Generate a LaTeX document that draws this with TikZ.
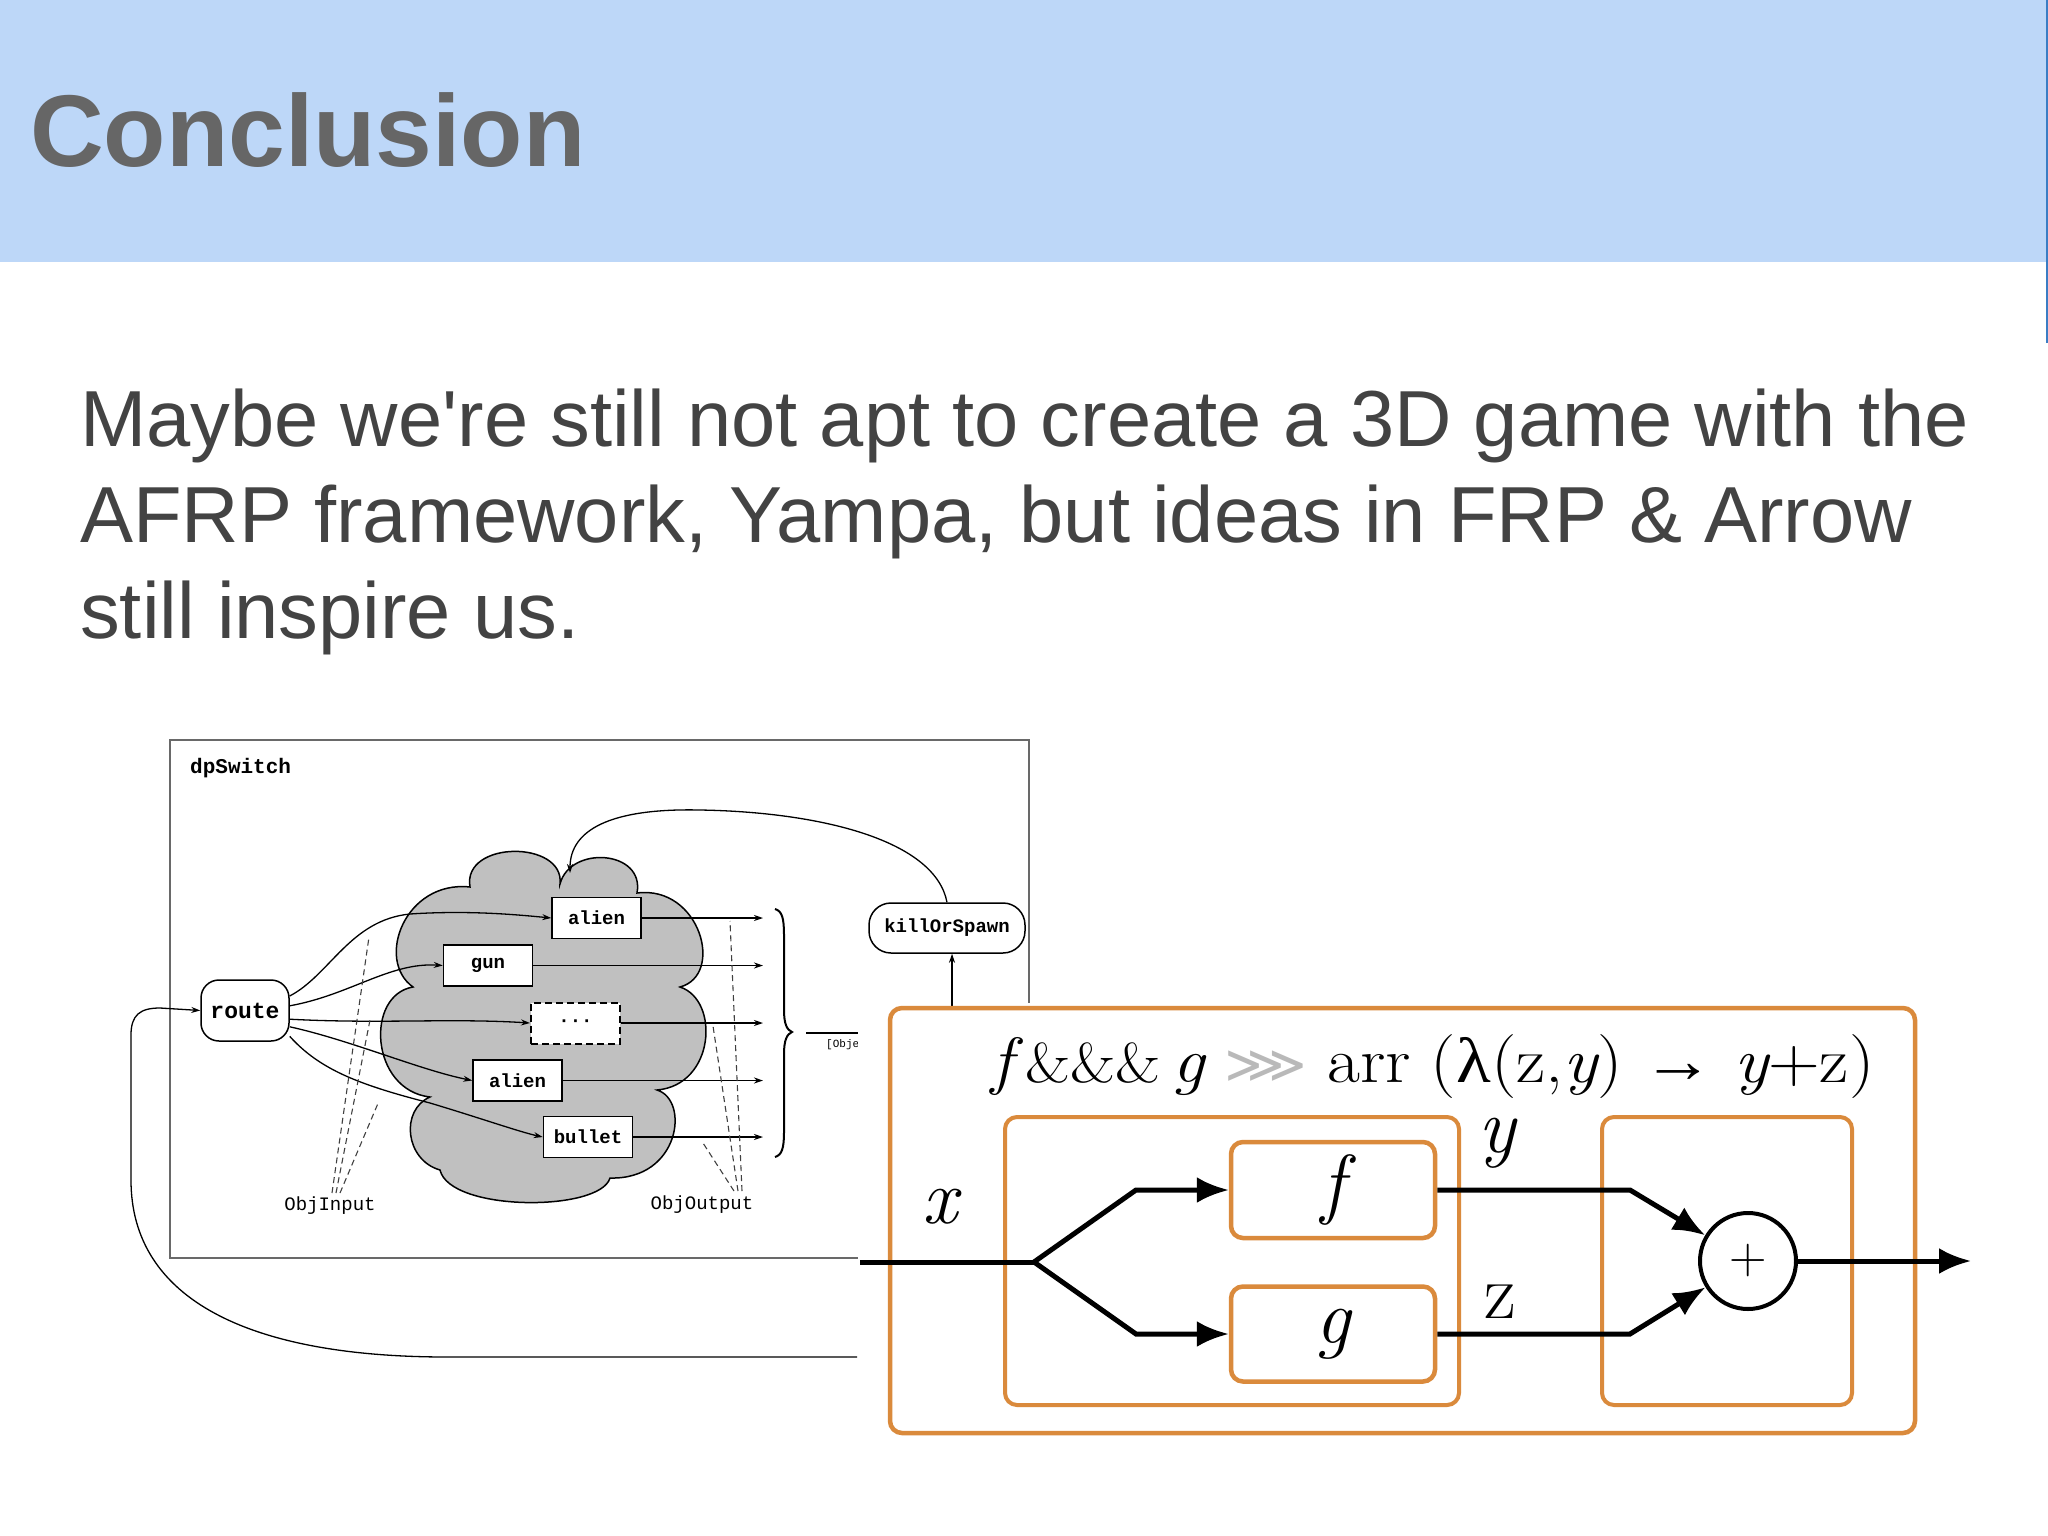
\documentclass[tikz,border=0pt]{standalone}
\usepackage{graphicx}
\usepackage{fontspec}
\usetikzlibrary{arrows.meta}
\newfontfamily\sansf{Liberation Sans}
\newfontfamily\monof{Liberation Mono}
\newfontfamily\seriff{Liberation Serif}
\newfontfamily\dejav{DejaVu Sans}
\definecolor{hdrblue}{RGB}{189,215,248}
\definecolor{edgeblue}{RGB}{58,125,196}
\definecolor{titlegray}{RGB}{102,102,102}
\definecolor{bodygray}{RGB}{67,67,67}
\definecolor{cloudgray}{RGB}{192,192,192}
\definecolor{framegray}{RGB}{105,105,105}
\definecolor{frporange}{RGB}{218,138,60}
\definecolor{chevgray}{RGB}{185,185,185}
\tikzset{
  bodytext/.style={anchor=base west, inner sep=0pt, text=bodygray, font=\sansf\fontsize{79.5}{96}\selectfont},
  objbox/.style={draw, line width=1.5pt, fill=white, inner sep=0pt, minimum width=89pt, minimum height=41pt, font=\monof\bfseries\fontsize{19}{22}\selectfont},
  pillbox/.style={draw, line width=1.5pt, fill=white, inner sep=0pt, font=\monof\bfseries\fontsize{19}{22}\selectfont},
  ledge/.style={line width=1.3pt, -{Stealth[length=9pt,width=6pt]}},
  dashline/.style={line width=1.1pt, dash pattern=on 6pt off 4pt, black!75},
  monolabel/.style={inner sep=0pt, anchor=base, font=\monof\fontsize{19}{22}\selectfont},
  obox/.style={draw=frporange, line width=4.5pt, rounded corners=12pt, inner sep=0pt},
  thickline/.style={line width=5pt, line join=miter},
  bigarrow/.style={thickline, -{Latex[length=32pt,width=26pt]}},
  mathlbl/.style={inner sep=0pt, anchor=base, font=\fontsize{78}{80}\selectfont}
}
\begin{document}
\begin{tikzpicture}[x=1pt,y=-1pt]
\useasboundingbox (0,0) rectangle (2048,1536);
% header
\fill[hdrblue] (0,0) rectangle (2048,262);
\draw[edgeblue, line width=2pt] (2047,0) -- (2047,343);
\node[anchor=base west, inner sep=0pt, text=titlegray, font=\sansf\bfseries\fontsize{102}{110}\selectfont] (title) at (30,166) {Conclusion};
% body text
\node[bodytext] (body1) at (80,446) {Maybe we're still not apt to create a 3D game with the};
\node[bodytext] (body2) at (80,542) {AFRP framework, Yampa, but ideas in FRP \& Arrow};
\node[bodytext] (body3) at (80,638) {still inspire us.};
% ---------------- left diagram ----------------
\draw[framegray, line width=2pt] (170,740) rectangle (1029,1258);
\node[anchor=base west, inner sep=0pt, font=\monof\bfseries\fontsize{21}{24}\selectfont] (dps) at (190,773) {dpSwitch};
% cloud
\draw[line width=1.5pt, fill=cloudgray]
  (470,887) .. controls (462,840) and (565,840) .. (560,884)
  .. controls (570,845) and (645,850) .. (637,893)
  .. controls (700,885) and (725,975) .. (680,987)
  .. controls (720,1000) and (715,1085) .. (657,1090)
  .. controls (690,1100) and (680,1180) .. (610,1178)
  .. controls (600,1212) and (450,1212) .. (440,1170)
  .. controls (405,1160) and (400,1110) .. (430,1097)
  .. controls (370,1090) and (365,995) .. (413,987)
  .. controls (375,960) and (405,880) .. (470,887) -- cycle;
% nodes
\node[pillbox, rounded corners=18pt, minimum width=88pt, minimum height=61pt, font=\monof\bfseries\fontsize{23}{26}\selectfont] (route) at (245,1010.5) {route};
\node[objbox] (alien1) at (596.5,918) {alien};
\node[objbox] (gun) at (488,965.5) {gun};
\node[objbox, dashed, dash pattern=on 7pt off 4pt, line width=2pt] (dots) at (575.5,1023) {···};
\node[objbox] (alien2) at (517.5,1080.5) {alien};
\node[objbox] (bullet) at (588,1137) {bullet};
\node[pillbox, rounded corners=22pt, minimum width=156pt, minimum height=50pt] (kill) at (947,928) {killOrSpawn};
% route edges
\draw[ledge] (route.18) .. controls (330,975) and (350,920) .. (410,914) .. controls (470,910) and (520,915) .. (alien1.west);
\draw[ledge] (route.6) .. controls (350,995) and (390,962) .. (gun.west);
\draw[ledge] (route.-11) .. controls (380,1024) and (450,1018) .. (dots.west);
\draw[ledge] (route.-20) .. controls (350,1040) and (420,1070) .. (alien2.west);
\draw[ledge] (route.-30) .. controls (320,1070) and (360,1085) .. (430,1103) .. controls (480,1118) and (520,1132) .. (bullet.west);
% outputs
\coordinate (o1) at (763,918);
\coordinate (o2) at (763,965.5);
\coordinate (o3) at (763,1023);
\coordinate (o4) at (763,1080.5);
\coordinate (o5) at (763,1137);
\draw[ledge] (alien1.east) -- (o1);
\draw[ledge] (gun.east) -- (o2);
\draw[ledge] (dots.east) -- (o3);
\draw[ledge] (alien2.east) -- (o4);
\draw[ledge] (bullet.east) -- (o5);
% dashed guide lines
\node[monolabel] (objin) at (330,1210) {ObjInput};
\node[monolabel] (objout) at (702,1209) {ObjOutput};
\draw[dashline] (332,1193) -- (369,937);
\draw[dashline] (336,1193) -- (370,1020);
\draw[dashline] (340,1193) -- (379,1101);
\draw[dashline] (742,1191) -- (730,921);
\draw[dashline] (738,1191) -- (713,1026);
\draw[dashline] (734,1191) -- (703,1143);
% brace
\draw[line width=2pt] (775,909) .. controls (782,911) and (784,918) .. (784,935) -- (784,1010)
  .. controls (784,1024) and (787,1030) .. (792,1032)
  .. controls (787,1034) and (784,1040) .. (784,1054) -- (784,1132)
  .. controls (784,1148) and (782,1155) .. (775,1157);
\coordinate (bl1) at (806,1033);
\coordinate (bl2) at (860,1033);
\draw[line width=1.3pt] (bl1) -- (bl2);
\node[anchor=west, inner sep=0pt, font=\monof\fontsize{11}{12}\selectfont] (objlist) at (826,1045) {[Objects]};
% feedback from killOrSpawn into cloud
\coordinate (cloudtop) at (570,873);
\draw[ledge] (kill.north) .. controls (935,840) and (820,812) .. (700,810) .. controls (610,808) and (570,830) .. (cloudtop);
% loop back into route
\coordinate (fbstart) at (857,1357);
\draw[ledge] (fbstart) -- (447,1357) .. controls (250,1357) and (131,1300) .. (131,1180) -- (131,1035) .. controls (131,1015) and (140,1008) .. (160,1008) -- (route.west);
% ---------------- right diagram ----------------
\fill[white] (858,1003) rectangle (1995,1445);
\coordinate (kin) at (952,1006);
\draw[ledge] (kin) -- (kill.south -| kin);
\node[obox, minimum width=1025pt, minimum height=425pt] (outer) at (1402.5,1220.5) {};
\node[obox, line width=4pt, minimum width=454pt, minimum height=288pt] (inner) at (1232,1261) {};
\node[obox, line width=4pt, minimum width=250pt, minimum height=288pt] (rbox) at (1727,1261) {};
\node[obox, minimum width=204pt, minimum height=96pt, font=\fontsize{78}{80}\selectfont\itshape] (fbox) at (1333,1190) {f};
\node[obox, minimum width=204pt, minimum height=95pt, font=\fontsize{78}{80}\selectfont\itshape] (gbox) at (1333,1334) {g};
\node[draw, circle, line width=4pt, minimum size=96pt, inner sep=0pt, font=\fontsize{52}{54}\selectfont] (plus) at (1748,1261) {+};
\coordinate (xin) at (860,1262);
\coordinate (fork) at (1034,1262);
\coordinate (fup) at (1136,1190);
\coordinate (gdn) at (1136,1334);
\coordinate (ycor) at (1630,1190);
\coordinate (zcor) at (1630,1334);
\coordinate (xout) at (1971,1261);
\draw[thickline] (xin) -- (fork);
\draw[bigarrow] (fork) -- (fup) -- (fbox.west);
\draw[bigarrow] (fork) -- (gdn) -- (gbox.west);
\draw[bigarrow] (fbox.east) -- (ycor) -- (plus);
\draw[bigarrow] (gbox.east) -- (zcor) -- (plus);
\draw[bigarrow] (plus.east) -- (xout);
% labels
\node[mathlbl, font=\fontsize{78}{80}\selectfont\itshape] (xl) at (940,1223) {x};
\node[mathlbl, font=\fontsize{78}{80}\selectfont\itshape] (yl) at (1497,1152) {y};
\node[mathlbl] (zl) at (1500,1318) {z};
% formula
\node[anchor=base, inner sep=0pt, font=\fontsize{64}{68}\selectfont] (formula) at (1433,1082)
  {\scalebox{1.12}[1]{\itshape f\upshape\,{\fontsize{56}{58}\selectfont\&\&\&}\,\itshape g\upshape\;{\dejav\fontsize{52}{54}\selectfont\color{chevgray}⋙}\;arr\;({\seriff λ}(z,\itshape y\upshape)\;{\seriff →}\;\itshape y\upshape{+}z)}};
\end{tikzpicture}
\end{document}
